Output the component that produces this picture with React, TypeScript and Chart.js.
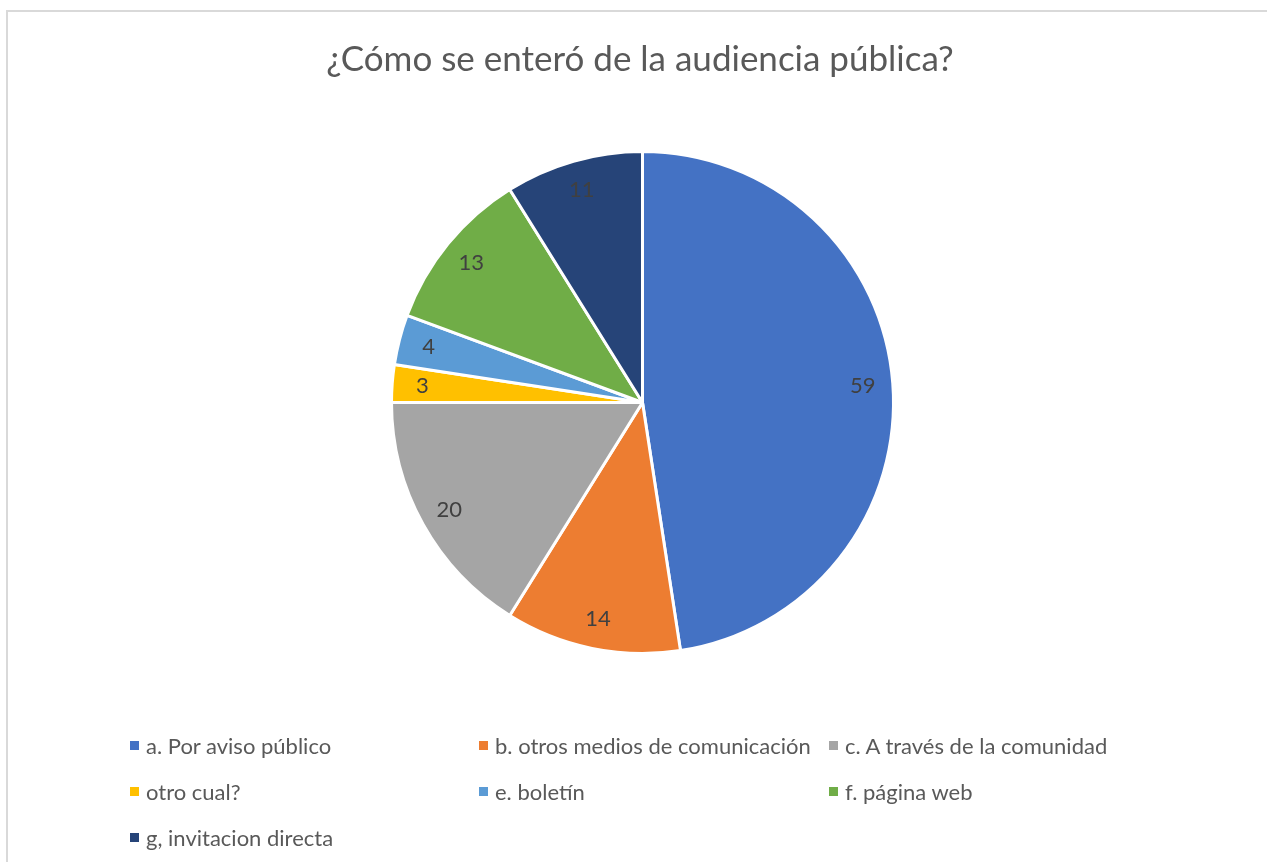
import React, { useEffect, useRef } from "react";
import { Chart, registerables } from "chart.js";

Chart.register(...registerables);

const titleText = "¿Cómo se enteró de la audiencia pública?";
const categories = [
  "a. Por aviso público",
  "b. otros medios de comunicación",
  "c. A través de la comunidad",
  "otro cual?",
  "e. boletín",
  "f. página web",
  "g, invitacion directa",
];
const values = [59, 14, 20, 3, 4, 13, 11];
const colors = ["#4472C4", "#ED7D31", "#A5A5A5", "#FFC000", "#5B9BD5", "#70AD47", "#264478"];

const FONT = "Lato, 'Open Sans', sans-serif";

const labelPlugin = {
  id: "sliceLabels",
  afterDatasetsDraw(chart: any) {
    const ctx = chart.ctx;
    const meta = chart.getDatasetMeta(0);
    const data = chart.data.datasets[0].data;
    ctx.save();
    ctx.font = `22px ${FONT}`;
    ctx.fillStyle = "#404040";
    ctx.textAlign = "center";
    ctx.textBaseline = "middle";
    meta.data.forEach((arc: any, i: number) => {
      const { startAngle, endAngle, outerRadius, x, y } = arc.getProps(
        ["startAngle", "endAngle", "outerRadius", "x", "y"],
        true
      );
      const mid = (startAngle + endAngle) / 2;
      const d = outerRadius * 0.88;
      ctx.fillText(String(data[i]), x + Math.cos(mid) * d, y + Math.sin(mid) * d);
    });
    ctx.restore();
  },
};

export default function App() {
  const ref = useRef<HTMLCanvasElement | null>(null);
  useEffect(() => {
    if (!ref.current) return;
    const chart = new Chart(ref.current, {
      type: "pie",
      data: {
        labels: categories,
        datasets: [
          {
            data: values,
            backgroundColor: colors,
            borderColor: "#ffffff",
            borderWidth: 3,
          },
        ],
      },
      options: {
        responsive: false,
        animation: false,
        layout: { padding: { top: 150, bottom: 207, left: 390, right: 372 } },
        plugins: {
          legend: { display: false },
          title: { display: false },
          tooltip: { enabled: false },
        },
      },
      plugins: [labelPlugin],
    });
    return () => chart.destroy();
  }, []);

  const colX = [130, 479, 829];
  const rowY = [745, 791, 837];

  return (
    <div
      style={{
        position: "fixed",
        left: 0,
        top: 0,
        width: 1267,
        height: 862,
        overflow: "hidden",
        background: "#fff",
        fontFamily: FONT,
      }}
    >
      <div
        style={{
          position: "absolute",
          left: 6,
          top: 10,
          width: 1400,
          height: 1000,
          borderLeft: "2px solid #d9d9d9",
          borderTop: "2px solid #d9d9d9",
        }}
      />
      <canvas
        ref={ref}
        width={1267}
        height={862}
        style={{ position: "absolute", left: 0, top: 0, width: 1267, height: 862 }}
      />
      <div
        style={{
          position: "absolute",
          left: 0,
          width: 1280,
          top: 34,
          textAlign: "center",
          fontSize: 35,
          lineHeight: "46px",
          color: "#595959",
        }}
      >
        {titleText}
      </div>
      {categories.map((c, i) => {
        const x = colX[i % 3];
        const y = rowY[Math.floor(i / 3)];
        return (
          <div
            key={c}
            style={{
              position: "absolute",
              left: x,
              top: y - 15,
              height: 30,
              display: "flex",
              alignItems: "center",
              whiteSpace: "nowrap",
              fontSize: 22,
              color: "#595959",
            }}
          >
            <span
              style={{
                display: "inline-block",
                width: 9,
                height: 9,
                background: colors[i],
                marginRight: 7,
              }}
            />
            <span>{c}</span>
          </div>
        );
      })}
    </div>
  );
}
